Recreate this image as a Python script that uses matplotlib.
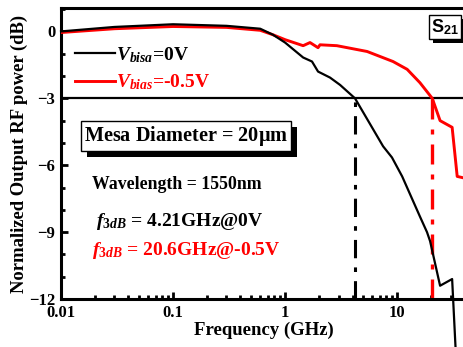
import matplotlib
matplotlib.use("Agg")
import matplotlib.pyplot as plt
import matplotlib.patheffects as pe
from matplotlib.ticker import FixedLocator, LogLocator, MultipleLocator, NullFormatter
import numpy as np

# --------------------------------------------------
# DATA
# --------------------------------------------------

freq_0v = [0.01, 0.03, 0.1, 0.3, 0.6, 0.78, 1.0, 1.45, 1.74, 1.97, 2.52,
           3.1, 4.21, 7.5, 9.0, 11.1, 16.0, 18.5, 19.7, 24.2, 31.0, 33.5]
s21_0v = [0.0, 0.2, 0.32, 0.25, 0.12, -0.15, -0.5, -1.17, -1.35, -1.8, -2.07,
          -2.4, -3.0, -5.15, -5.65, -6.5, -8.3, -9.0, -9.4, -11.4, -11.1, -14.5]

freq_05v = [0.01, 0.03, 0.1, 0.3, 0.6, 0.78, 1.0, 1.45, 1.67, 1.97, 2.05,
            2.9, 5.4, 9.2, 12.3, 16.0, 20.6, 24.2, 31.0, 34.4, 42.0]
s21_05v = [-0.05, 0.12, 0.22, 0.18, 0.05, -0.15, -0.37, -0.64, -0.5, -0.73, -0.6,
           -0.64, -0.9, -1.35, -1.7, -2.3, -3.0, -4.0, -4.3, -6.5, -6.6]

f3db_0v = 4.21
f3db_05v = 20.6

xticks = [0.01, 0.1, 1, 10]
xticklabels = ["0.01", "0.1", "1", "10"]
yticks = [0, -3, -6, -9, -12]

# --------------------------------------------------
# STYLE
# --------------------------------------------------

plt.rcParams["font.family"] = ["Liberation Serif", "DejaVu Serif"]
plt.rcParams["font.weight"] = "bold"
plt.rcParams["mathtext.fontset"] = "custom"
plt.rcParams["mathtext.rm"] = "Liberation Serif:bold"
plt.rcParams["mathtext.it"] = "Liberation Serif:italic:bold"
plt.rcParams["mathtext.bf"] = "Liberation Serif:bold"
plt.rcParams["mathtext.sf"] = "Liberation Sans:bold"

fig = plt.figure(figsize=(4.64, 3.47), dpi=100)
ax = fig.add_axes([0.1315, 0.138, 0.873, 0.839])

# --------------------------------------------------
# CURVES
# --------------------------------------------------

ax.plot(freq_0v, s21_0v, color="black", lw=1.6, clip_on=False, zorder=4,
        label=r"$V_{bisa}$=0V")
ax.plot(freq_05v, s21_05v, color="red", lw=2.1, zorder=3,
        label=r"$V_{bias}$=-0.5V")

ax.axhline(-3, color="black", lw=1.6, zorder=2)
ax.vlines(f3db_0v, -12, -3, colors="black", lw=2.2, linestyles=(0, (6, 3, 1.5, 3)))
ax.vlines(f3db_05v, -12, -3, colors="red", lw=2.4, linestyles=(0, (6, 3, 1.5, 3)))

# --------------------------------------------------
# AXES
# --------------------------------------------------

ax.set_xscale("log")
ax.set_xlim(0.01, 41.3)
ax.set_ylim(-12, 1.05)

ax.xaxis.set_major_locator(FixedLocator(xticks))
ax.set_xticklabels(xticklabels)
ax.xaxis.set_minor_locator(LogLocator(base=10, subs=np.arange(2, 10)))
ax.xaxis.set_minor_formatter(NullFormatter())
ax.set_yticks(yticks)
ax.yaxis.set_minor_locator(MultipleLocator(1))

ax.tick_params(which="both", direction="in", width=2, labelsize=12)
ax.tick_params(which="major", length=5, pad=4)
ax.tick_params(which="minor", length=3)
for s in ax.spines.values():
    s.set_linewidth(2.2)

ax.set_xlabel("Frequency (GHz)", fontsize=13.5, fontweight="bold", labelpad=1)
ax.set_ylabel("Normalized Output RF power (dB)", fontsize=13.4, fontweight="bold",
              labelpad=1)

# --------------------------------------------------
# LEGEND / ANNOTATIONS
# --------------------------------------------------

leg = ax.legend(loc="upper left", bbox_to_anchor=(0.0, 0.92), frameon=False,
                fontsize=14, handlelength=2.1, handletextpad=0.05,
                labelspacing=0.42, borderaxespad=0.3)
leg.get_texts()[1].set_color("red")

t = ax.text(0.057, 0.56, r"Mesa Diameter = 20$\mathrm{\mu}$m", transform=ax.transAxes,
            fontsize=14.6, fontweight="bold", va="center", ha="left",
            bbox=dict(boxstyle="square,pad=0.15", fc="white", ec="black", lw=1))
t.get_bbox_patch().set_path_effects([
    pe.withSimplePatchShadow(offset=(4, -4), shadow_rgbFace="black", alpha=1)])

ax.text(0.077, 0.395, "Wavelength = 1550nm", transform=ax.transAxes,
        fontsize=12.8, fontweight="bold", va="center", ha="left")
ax.text(0.087, 0.265, r"$f_{3dB}$ = 4.21GHz@0V", transform=ax.transAxes,
        fontsize=14, fontweight="bold", va="center", ha="left")
ax.text(0.077, 0.168, r"$f_{3dB}$ = 20.6GHz@-0.5V", transform=ax.transAxes,
        fontsize=14, fontweight="bold", va="center", ha="left", color="red")

s = ax.text(0.948, 0.935, r"S$_{\mathsf{21}}$", transform=ax.transAxes,
            fontsize=13, fontweight="bold", family="Liberation Sans",
            va="center", ha="center",
            bbox=dict(boxstyle="square,pad=0.1", fc="white", ec="black", lw=1))
s.get_bbox_patch().set_path_effects([
    pe.withSimplePatchShadow(offset=(3, -3), shadow_rgbFace="black", alpha=1)])

fig.savefig("out.png", dpi=100)
